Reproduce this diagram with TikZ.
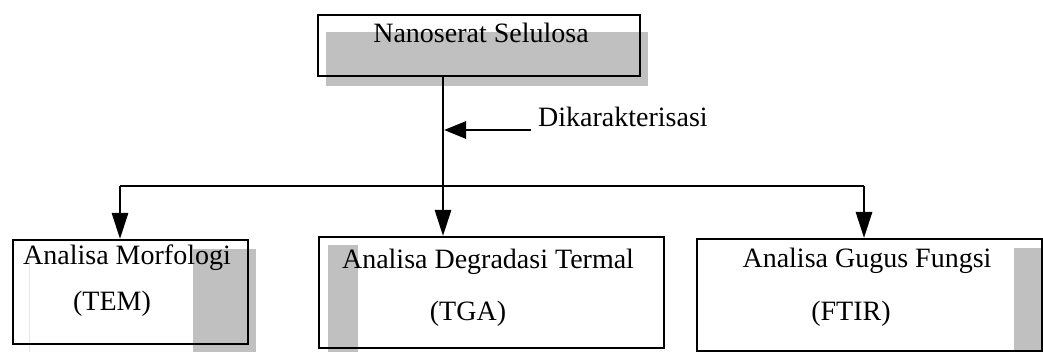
\documentclass[tikz,border=0pt]{standalone}
\usepackage{fontspec}
\setmainfont{Liberation Serif}
\usetikzlibrary{arrows.meta}
\definecolor{shade}{HTML}{C0C0C0}
\begin{document}
\begin{tikzpicture}[x=1pt,y=-1pt,
  boxline/.style={draw=black,line width=2.3pt,fill=none},
  shadow/.style={fill=shade,draw=none},
  lbl/.style={anchor=base,inner sep=0pt,font=\fontsize{28}{32}\selectfont},
  conn/.style={line width=2.8pt,draw=black},
  tip/.style={-{Triangle[length=26pt,width=16pt]}},
  tipside/.style={-{Triangle[length=22pt,width=17pt]}}]
\useasboundingbox (0,0) rectangle (1043,352);
% grey shading blocks
\fill[shadow] (326,32) rectangle (648,86);
\fill[shadow] (193,249) rectangle (256,352);
\fill[shadow] (328,245) rectangle (358,352);
\fill[shadow] (1014,248) rectangle (1043,350);
\draw[black!10,line width=0.6pt] (29,249) -- (29,352);
% boxes
\node[boxline,rectangle,minimum width=322pt,minimum height=61pt,anchor=north west,inner sep=0pt] (top) at (317,14) {};
\node[boxline,rectangle,minimum width=235pt,minimum height=104pt,anchor=north west,inner sep=0pt] (tem) at (12,239) {};
\node[boxline,rectangle,minimum width=345pt,minimum height=111pt,anchor=north west,inner sep=0pt] (tga) at (318,236) {};
\node[boxline,rectangle,minimum width=345pt,minimum height=112pt,anchor=north west,inner sep=0pt] (ftir) at (696,238) {};
% texts
\node[lbl] (ttop) at (481,43) {Nanoserat Selulosa};
\node[lbl] (t1a) at (127,265) {Analisa Morfologi};
\node[lbl] (t1b) at (112,310) {(TEM)};
\node[lbl] (t2a) at (488,269) {Analisa Degradasi Termal};
\node[lbl] (t2b) at (468,320) {(TGA)};
\node[lbl] (t3a) at (867,268) {Analisa Gugus Fungsi};
\node[lbl] (t3b) at (851,320) {(FTIR)};
\node[lbl,anchor=base west] (dik) at (538,127) {Dikarakterisasi};
% connectors
\coordinate (jc) at (443,186);
\coordinate (jl) at (120,186);
\coordinate (jr) at (864,186);
\coordinate (atail) at (531,130);
\coordinate (ahead) at (444,130);
\draw[conn] (top.south -| jc) -- (jc);
\draw[conn] (jl) -- (jr);
\draw[conn,tip] (jl) -- (tem.north -| jl);
\draw[conn,tip] (jc) -- (tga.north -| jc);
\draw[conn,tip] (jr) -- (ftir.north -| jr);
\draw[conn,tipside] (atail) -- (ahead);
\end{tikzpicture}
\end{document}
